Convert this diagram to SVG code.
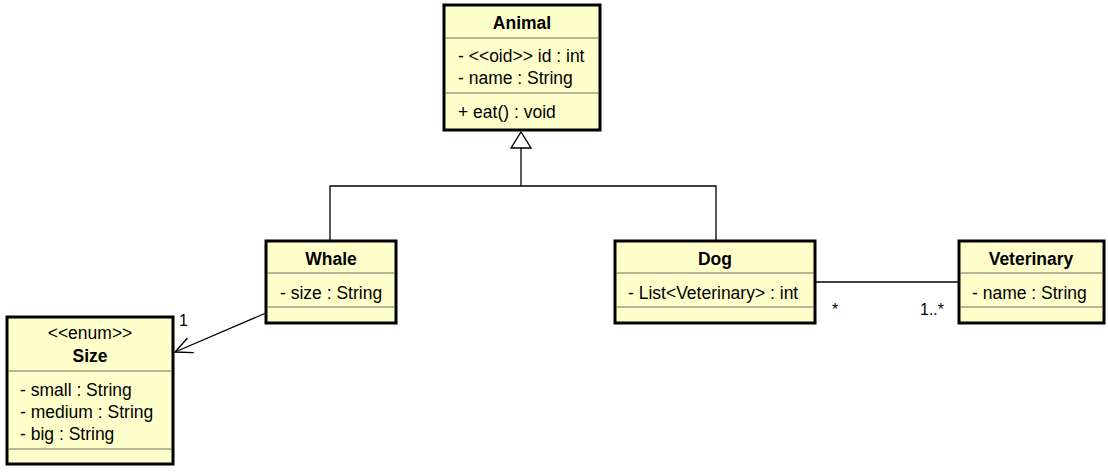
<svg xmlns="http://www.w3.org/2000/svg" width="1108" height="472" viewBox="0 0 1108 472">
<style>
.box{fill:#ffffcc;stroke:#000;stroke-width:3}
.div{stroke:#6e6e5a;stroke-width:1.2}
.t{font-family:"Liberation Sans",Arial,sans-serif;font-size:17.5px;fill:#000}
.b{font-weight:bold;text-anchor:middle}
.c{text-anchor:middle}
.edge{stroke:#000;stroke-width:1.3;fill:none}
.lbl{font-family:"Liberation Sans",Arial,sans-serif;font-size:16px;fill:#000}
</style>
<defs>
<marker id="open" markerUnits="userSpaceOnUse" markerWidth="20" markerHeight="20" viewBox="0 0 20 20" refX="18" refY="10" orient="auto">
<path d="M1,2 L18,10 L1,18" fill="none" stroke="#000" stroke-width="1.4"/>
</marker>
</defs>
<rect width="1108" height="472" fill="#fff"/>
<g id="connectors">
<polyline class="edge" points="330,241 330,186 716,186 716,241"/>
<line class="edge" x1="521" y1="186" x2="521" y2="148"/>
<polygon points="521,132 511,148 531,148" fill="#fff" stroke="#000" stroke-width="1.4"/>
<line class="edge" x1="266" y1="313" x2="175" y2="352" marker-end="url(#open)"/>
<text class="lbl" x="179" y="326">1</text>
<line class="edge" x1="815" y1="282" x2="959" y2="282"/>
<text class="lbl" x="832" y="315">*</text>
<text class="lbl" x="920" y="315">1..*</text>
</g>
<g id="animal">
<rect class="box" x="444" y="5" width="156" height="125"/>
<line class="div" x1="445" y1="38" x2="599" y2="38"/>
<line class="div" x1="445" y1="93" x2="599" y2="93"/>
<text class="t b" x="522" y="29">Animal</text>
<text class="t" x="458" y="62">- &lt;&lt;oid&gt;&gt; id : int</text>
<text class="t" x="458" y="84">- name : String</text>
<text class="t" x="458" y="118">+ eat() : void</text>
</g>
<g id="whale">
<rect class="box" x="266" y="241" width="130" height="82"/>
<line class="div" x1="267" y1="273" x2="395" y2="273"/>
<line class="div" x1="267" y1="307" x2="395" y2="307"/>
<text class="t b" x="331" y="265">Whale</text>
<text class="t" x="280" y="299">- size : String</text>
</g>
<g id="dog">
<rect class="box" x="615" y="241" width="200" height="82"/>
<line class="div" x1="616" y1="273" x2="814" y2="273"/>
<line class="div" x1="616" y1="307" x2="814" y2="307"/>
<text class="t b" x="715" y="265">Dog</text>
<text class="t" x="628" y="299">- List&lt;Veterinary&gt; : int</text>
</g>
<g id="veterinary">
<rect class="box" x="959" y="241" width="145" height="82"/>
<line class="div" x1="960" y1="273" x2="1103" y2="273"/>
<line class="div" x1="960" y1="307" x2="1103" y2="307"/>
<text class="t b" x="1031" y="265">Veterinary</text>
<text class="t" x="972" y="299">- name : String</text>
</g>
<g id="size">
<rect class="box" x="7" y="317" width="166" height="147"/>
<line class="div" x1="8" y1="371" x2="172" y2="371"/>
<line class="div" x1="8" y1="449" x2="172" y2="449"/>
<text class="t c" x="90" y="339">&lt;&lt;enum&gt;&gt;</text>
<text class="t b" x="90" y="362">Size</text>
<text class="t" x="20" y="396">- small : String</text>
<text class="t" x="20" y="418">- medium : String</text>
<text class="t" x="20" y="440">- big : String</text>
</g>
</svg>
